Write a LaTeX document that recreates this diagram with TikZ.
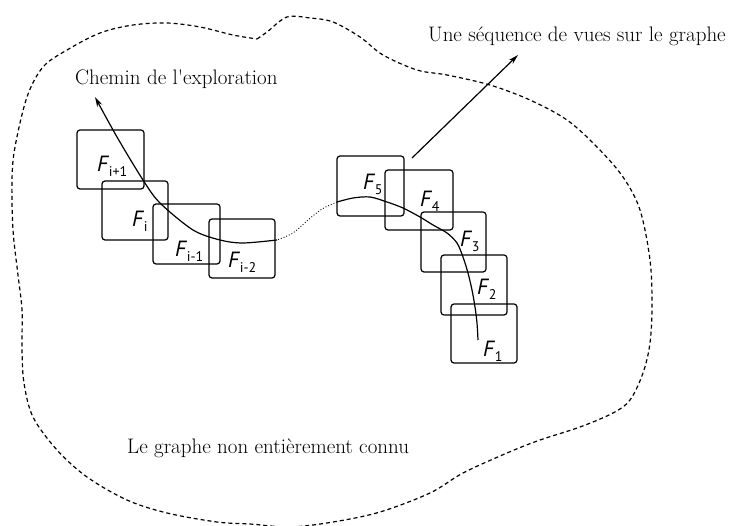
\documentclass[tikz,border=0pt]{standalone}
\usepackage{fontspec}
\usetikzlibrary{arrows.meta}
\newfontfamily\labfont{PT Sans}
\newfontfamily\plainrm{Latin Modern Roman}[Ligatures=TeXOff]
\newcommand\FF[1]{\textit{F}\kern-0.5pt\raisebox{-4.5pt}{\fontsize{14}{14}\selectfont #1}}
\begin{document}
\begin{tikzpicture}[x=1pt,y=1pt,
  fbox/.style={draw, rounded corners=3pt, line width=1.2pt, minimum width=66pt, minimum height=59pt, inner sep=0pt},
  flab/.style={font=\labfont\fontsize{22}{22}\selectfont, inner sep=0pt, anchor=base west},
  txt/.style={font=\plainrm\fontsize{21}{25}\selectfont, inner sep=0pt, anchor=base west},
  curvestyle/.style={line width=1.2pt},
  arr/.style={-{Stealth[length=10pt,width=5.5pt]}},
  border/.style={dash pattern=on 4pt off 3pt, line width=1.2pt}]
\useasboundingbox (0,0) rectangle (736,525);

% boundary of the graph
\draw[border] plot[smooth, tension=0.55] coordinates {
 (257,486) (267,493) (287,508) (310,507) (333,503) (360,488) (383,470) (417,455)
 (447,450) (490,440) (530,425) (567,405) (597,378) (623,348) (640,315) (650,265)
 (652,220) (650,182) (643,152) (630,125) (613,112) (580,98) (540,85) (507,72)
 (463,52) (430,32) (380,13) (333,3) (290,-2) (250,1) (217,3) (167,12) (127,25) (87,48)
 (57,75) (33,108) (24,142) (22,175) (22,215) (18,250) (13,295) (12,345) (15,378)
 (27,428) (43,458) (67,475) (100,492) (133,500) (167,502) (200,498) (233,490) (257,486)};

% frames
\node[fbox, minimum width=67pt] (bip1) at (110.5,365.5) {};
\node[fbox] (bi) at (135,314.5) {};
\node[fbox, minimum width=67pt, minimum height=60pt] (bim1) at (186.5,291) {};
\node[fbox] (bim2) at (242,276.5) {};
\node[fbox, minimum width=67pt, minimum height=60pt] (b5) at (370.5,339) {};
\node[fbox, minimum width=68pt, minimum height=60pt] (b4) at (419,325) {};
\node[fbox, minimum width=65pt, minimum height=60pt] (b3) at (453.5,283) {};
\node[fbox, minimum height=60pt] (b2) at (474,240) {};
\node[fbox] (b1) at (484,191.5) {};

% frame labels
\node[flab] (lip1) at (97,353) {\FF{i+1}};
\node[flab] (li) at (132,298) {\FF{i}};
\node[flab] (lim1) at (175,268) {\FF{i-1}};
\node[flab] (lim2) at (228,257) {\FF{i-2}};
\node[flab] (l5) at (363,335) {\FF{5}};
\node[flab] (l4) at (420,318) {\FF{4}};
\node[flab] (l3) at (460,278) {\FF{3}};
\node[flab] (l2) at (477,230) {\FF{2}};
\node[flab] (l1) at (483,168) {\FF{1}};

% texts
\node[txt] (tchemin) at (75,440) {Chemin de l'exploration};
\node[txt] (tseq) at (428,483) {Une séquence de vues sur le graphe};
\node[txt] (tgraphe) at (127,72) {Le graphe non entièrement connu};

% path coordinates
\coordinate (p0) at (277,285);
\coordinate (p1) at (243,282);
\coordinate (p2) at (220,285);
\coordinate (p3) at (193,295);
\coordinate (p4) at (160,322);
\coordinate (p5) at (143,345);
\coordinate (p6) at (117,388);
\coordinate (tipL) at (95,428);
\coordinate (d1) at (293,292);
\coordinate (d2) at (308,305);
\coordinate (d3) at (322,316);
\coordinate (r0) at (337,323);
\coordinate (r1) at (353,327);
\coordinate (r2) at (370,328);
\coordinate (r3) at (387,323);
\coordinate (r4) at (403,317);
\coordinate (r5) at (420,308);
\coordinate (r6) at (433,300);
\coordinate (r7) at (447,292);
\coordinate (r8) at (457,282);
\coordinate (r9) at (463,268);
\coordinate (r10) at (468,252);
\coordinate (r11) at (472,235);
\coordinate (r12) at (475,218);
\coordinate (r13) at (477,202);
\coordinate (rEnd) at (478,185);
\coordinate (s0) at (412,367);
\coordinate (s1) at (518,470);

% exploration path
\draw[curvestyle] plot[smooth] coordinates {(rEnd) (r13) (r12) (r11) (r10) (r9) (r8) (r7) (r6) (r5) (r4) (r3) (r2) (r1) (r0)};
\draw[line width=0.9pt, dotted] plot[smooth] coordinates {(r0) (d3) (d2) (d1) (p0)};
\draw[curvestyle, arr] plot[smooth] coordinates {(p0) (p1) (p2) (p3) (p4) (p5) (p6) (tipL)};

% sequence arrow
\draw[curvestyle, arr] (s0) -- (s1);
\end{tikzpicture}
\end{document}
